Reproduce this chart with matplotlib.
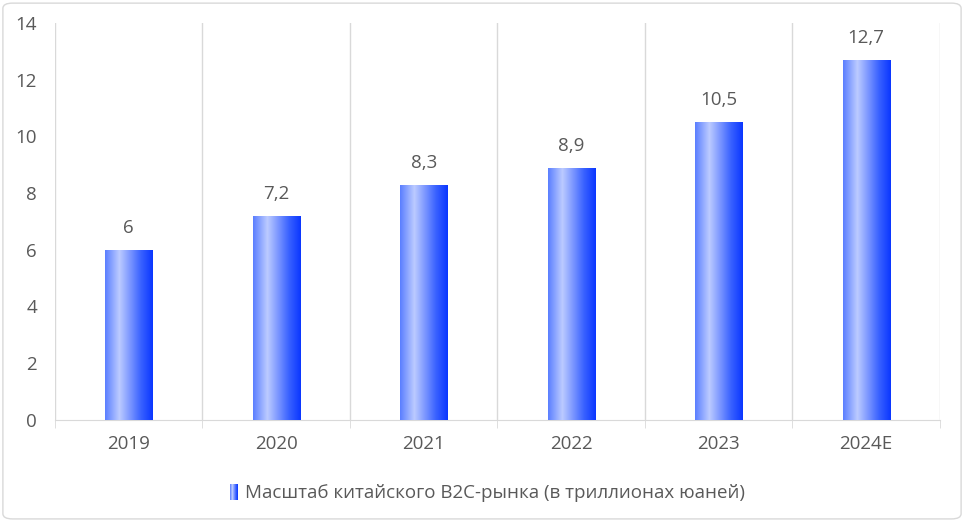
import numpy as np
import matplotlib
matplotlib.use("Agg")
import matplotlib.pyplot as plt
from matplotlib.colors import LinearSegmentedColormap
from matplotlib.patches import Rectangle, FancyBboxPatch
from matplotlib.legend_handler import HandlerBase

years = ["2019", "2020", "2021", "2022", "2023", "2024E"]
values = [6, 7.2, 8.3, 8.9, 10.5, 12.7]
labels = ["6", "7,2", "8,3", "8,9", "10,5", "12,7"]
series_name = "Масштаб китайского B2C-рынка (в триллионах юаней)"

plt.rcParams['font.family'] = ['Open Sans', 'DejaVu Sans']
text_gray = '#595959'
grid_gray = '#d9d9d9'
fs = 13.5

cmap = LinearSegmentedColormap.from_list(
    "barfill", [(0, '#5a7eff'), (0.3, '#bccbff'), (0.75, '#3a62ff'), (1, '#0a36ff')])
grad = np.linspace(0, 1, 256).reshape(1, -1)

fig = plt.figure(figsize=(9.64, 5.21), dpi=100)
ax = fig.add_axes([0.057, 0.194, 0.918, 0.762])

x = np.arange(len(years))
bars = ax.bar(x, values, width=0.32, color='none', edgecolor='none', zorder=3)
for b in bars:
    x0, w, h = b.get_x(), b.get_width(), b.get_height()
    im = ax.imshow(grad, cmap=cmap, aspect='auto', extent=[x0, x0 + w, 0, h], zorder=3)
    im.set_clip_path(b)

for xi, v, lab in zip(x, values, labels):
    ax.text(xi, v + 0.45, lab, ha='center', va='bottom', fontsize=fs, color=text_gray)

ax.set_xlim(-0.5, len(years) - 0.5)
ax.set_ylim(0, 14)
ax.set_yticks(range(0, 15, 2))
ax.set_xticks(x)
ax.set_xticklabels(years)
ax.set_xticks(np.arange(-0.5, len(years), 1), minor=True)
ax.xaxis.grid(True, which='minor', color=grid_gray, lw=1)
ax.tick_params(axis='x', which='major', length=0, pad=11, labelsize=fs, labelcolor=text_gray)
ax.tick_params(axis='x', which='minor', length=6, color=grid_gray)
ax.tick_params(axis='y', length=0, pad=13, labelsize=fs, labelcolor=text_gray)
for s in ['top', 'right', 'left']:
    ax.spines[s].set_visible(False)
ax.spines['bottom'].set_color(grid_gray)
ax.set_axisbelow(True)


class GradHandler(HandlerBase):
    def create_artists(self, legend, orig_handle, xdescent, ydescent, width, height, fontsize, trans):
        w = height * 0.6
        x0 = (width - w) / 2 - xdescent
        n = 8
        arts = []
        for i in range(n):
            r = Rectangle((x0 + i * w / n, -ydescent - 1), w / n, height + 2,
                          facecolor=cmap((i + 0.5) / n), edgecolor='none', transform=trans)
            arts.append(r)
        return arts


handle = Rectangle((0, 0), 1, 1)
leg = fig.legend([handle], [series_name], handler_map={Rectangle: GradHandler()},
                 loc='center', bbox_to_anchor=(0.505, 0.053), frameon=False,
                 fontsize=fs, handlelength=0.6, handletextpad=0.3)
for t in leg.get_texts():
    t.set_color(text_gray)

border = FancyBboxPatch((0.003, 0.004), 0.994, 0.99, boxstyle="round,pad=0,rounding_size=0.01",
                        transform=fig.transFigure, facecolor='none', edgecolor='#d9d9d9', lw=1)
fig.patches.append(border)

fig.savefig("out.png", dpi=100)
